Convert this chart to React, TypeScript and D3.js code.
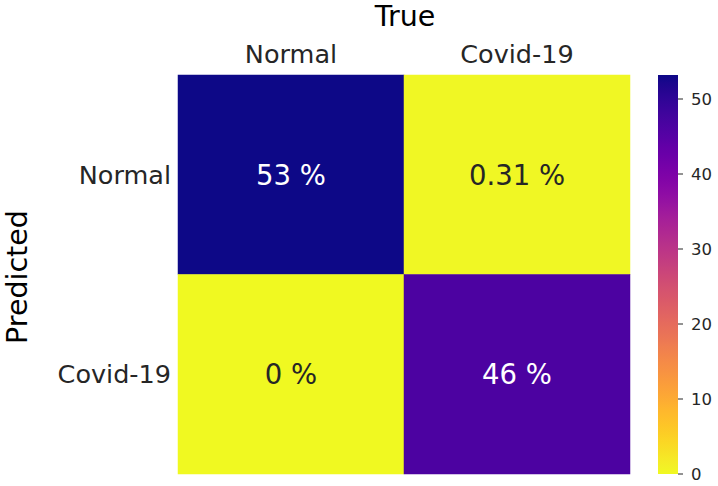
import React from "react";
import * as d3 from "d3";

const trueLabels = ["Normal", "Covid-19"];
const predLabels = ["Normal", "Covid-19"];
// values[row=predicted][col=true], in percent
const values = [
  [53.2, 0.31],
  [0, 46.49],
];
const valueLabels = [
  ["53 %", "0.31 %"],
  ["0 %", "46 %"],
];
const colorbarTicks = [0, 10, 20, 30, 40, 50];
const vmin = 0;
const vmax = 53.2;

const W = 718;
const H = 486;
const FONT = "'DejaVu Sans', sans-serif";

export default function App() {
  const x = d3.scaleBand<string>().domain(trueLabels).range([178, 630]);
  const y = d3.scaleBand<string>().domain(predLabels).range([75, 474]);
  const color = (v: number) => d3.interpolatePlasma(1 - (v - vmin) / (vmax - vmin));
  const cb = d3.scaleLinear().domain([vmin, vmax]).range([474, 75]);
  const cbX0 = 658;
  const cbX1 = 678;
  const stops = d3.range(0, 1.0001, 0.02);

  return (
    <svg
      width={W}
      height={H}
      style={{ position: "absolute", left: 0, top: 0, background: "#fff" }}
      fontFamily={FONT}
    >
      <defs>
        <linearGradient id="cbGrad" x1="0" y1="1" x2="0" y2="0">
          {stops.map((t) => (
            <stop key={t} offset={t} stopColor={color(vmin + t * (vmax - vmin))} />
          ))}
        </linearGradient>
      </defs>

      {/* cells */}
      {predLabels.map((p, i) =>
        trueLabels.map((t, j) => {
          const v = values[i][j];
          const bright = v > (vmax - vmin) / 2;
          return (
            <g key={`${i}-${j}`}>
              <rect
                x={x(t)!}
                y={y(p)!}
                width={x.bandwidth()}
                height={y.bandwidth()}
                fill={color(v)}
                stroke={color(v)}
                strokeWidth={0.5}
              />
              <text
                x={x(t)! + x.bandwidth() / 2}
                y={y(p)! + y.bandwidth() / 2}
                textAnchor="middle"
                dominantBaseline="central"
                fontSize={27.5}
                fill={bright ? "#ffffff" : "#262626"}
              >
                {valueLabels[i][j]}
              </text>
            </g>
          );
        })
      )}

      {/* top tick labels */}
      {trueLabels.map((t) => (
        <text
          key={t}
          x={x(t)! + x.bandwidth() / 2}
          y={63}
          textAnchor="middle"
          fontSize={25.5}
          fill="#262626"
        >
          {t}
        </text>
      ))}
      {/* left tick labels */}
      {predLabels.map((p) => (
        <text
          key={p}
          x={171}
          y={y(p)! + y.bandwidth() / 2}
          textAnchor="end"
          dominantBaseline="central"
          fontSize={25.5}
          fill="#262626"
        >
          {p}
        </text>
      ))}

      {/* titles */}
      <text x={405} y={26} textAnchor="middle" fontSize={28.5} fill="#000">
        True
      </text>
      <text
        transform={`translate(27, 277) rotate(-90)`}
        textAnchor="middle"
        fontSize={28.5}
        fill="#000"
      >
        Predicted
      </text>

      {/* colorbar */}
      <rect x={cbX0} y={75} width={cbX1 - cbX0} height={474 - 75} fill="url(#cbGrad)" />
      {colorbarTicks.map((tk) => (
        <g key={tk}>
          <line x1={cbX1} x2={cbX1 + 5} y1={cb(tk)} y2={cb(tk)} stroke="#262626" strokeWidth={1} />
          <text
            x={cbX1 + 13}
            y={cb(tk)}
            dominantBaseline="central"
            fontSize={16.5}
            fill="#262626"
          >
            {tk}
          </text>
        </g>
      ))}
    </svg>
  );
}
